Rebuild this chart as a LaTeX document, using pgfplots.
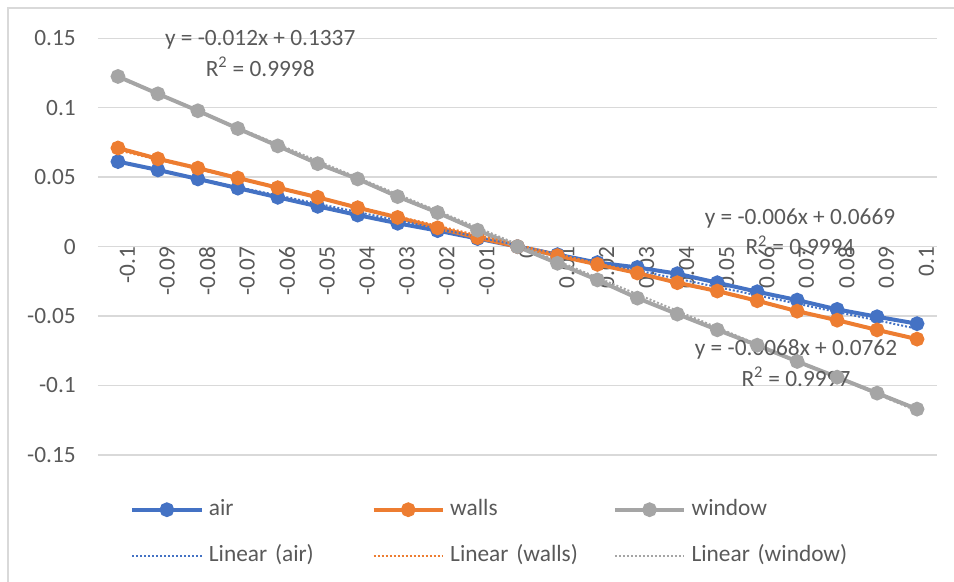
\documentclass[border=0pt]{standalone}
\usepackage{fontspec}
\setmainfont{Carlito}
\usepackage{pgfplots}
\pgfplotsset{compat=1.18}
\definecolor{airc}{HTML}{4472C4}
\definecolor{wallc}{HTML}{ED7D31}
\definecolor{winc}{HTML}{A5A5A5}
\definecolor{gridc}{HTML}{D9D9D9}
\definecolor{txtc}{HTML}{595959}
\begin{document}
\fontsize{17.5}{21}\selectfont
\begin{tikzpicture}
\begin{axis}[
  scale only axis,
  width=629.25pt, height=312.5pt,
  xmin=-0.5, xmax=20.5,
  ymin=-0.15, ymax=0.15,
  clip=false,
  axis x line=middle,
  axis y line=left,
  x axis line style={draw=gridc, line width=1pt, -},
  y axis line style={draw=none},
  hide obscured x ticks=false,
  hide obscured y ticks=false,
  major tick length=0pt,
  xtick={0,1,...,20},
  xticklabels={-0.1,-0.09,-0.08,-0.07,-0.06,-0.05,-0.04,-0.03,-0.02,-0.01,0,0.01,0.02,0.03,0.04,0.05,0.06,0.07,0.08,0.09,0.1},
  xticklabel style={rotate=90, anchor=east, text=txtc, inner sep=0pt, yshift=-7pt},
  ytick={-0.15,-0.1,-0.05,0,0.05,0.1,0.15},
  yticklabels={-0.15,-0.1,-0.05,0,0.05,0.1,0.15},
  yticklabel style={text=txtc, anchor=east, inner sep=0pt, xshift=-16.5pt},
  ymajorgrids,
  grid style={draw=gridc, line width=1pt},
  legend image code/.code={\draw[mark repeat=2,mark phase=2] plot coordinates {(0pt,0pt)(26pt,0pt)(52pt,0pt)};},
  legend columns=3,
  legend style={at={(0.0381,-0.090)}, anchor=north west, draw=none, fill=none,
    inner sep=0pt, row sep=9pt, text=txtc,
    nodes={text width=118pt, align=left, text height=0.75em, text depth=0.25em, inner sep=4pt}},
  legend cell align=left,
]
\addplot[color=airc, line width=3pt, mark=*, mark size=4pt, mark options={solid}] coordinates {
(0,0.0612)(1,0.0552)(2,0.0487)(3,0.0421)(4,0.0355)(5,0.0290)(6,0.0227)(7,0.0168)(8,0.0115)(9,0.0058)(10,0)
(11,-0.0058)(12,-0.0115)(13,-0.0150)(14,-0.0195)(15,-0.0260)(16,-0.0325)(17,-0.0385)(18,-0.0452)(19,-0.0505)(20,-0.0555)};
\addlegendentry{air}
\addplot[color=wallc, line width=3pt, mark=*, mark size=4pt, mark options={solid}] coordinates {
(0,0.0710)(1,0.0632)(2,0.0565)(3,0.0494)(4,0.0424)(5,0.0355)(6,0.0280)(7,0.0210)(8,0.0135)(9,0.0065)(10,0)
(11,-0.0065)(12,-0.0128)(13,-0.0190)(14,-0.0260)(15,-0.0320)(16,-0.0390)(17,-0.0465)(18,-0.0530)(19,-0.0600)(20,-0.0666)};
\addlegendentry{walls}
\addplot[color=winc, line width=3pt, mark=*, mark size=4pt, mark options={solid}] coordinates {
(0,0.1225)(1,0.1100)(2,0.0978)(3,0.0850)(4,0.0725)(5,0.0597)(6,0.0487)(7,0.0360)(8,0.0245)(9,0.0118)(10,0)
(11,-0.0120)(12,-0.0240)(13,-0.0371)(14,-0.0486)(15,-0.0599)(16,-0.0710)(17,-0.0827)(18,-0.0940)(19,-0.1055)(20,-0.1170)};
\addlegendentry{window}
\addplot[color=airc, line width=1.5pt, dash pattern=on 1.5pt off 1.5pt] coordinates {(0,0.0609)(20,-0.0591)};
\addlegendentry{\mbox{Linear (air)}}
\addplot[color=wallc, line width=1.5pt, dash pattern=on 1.5pt off 1.5pt] coordinates {(0,0.0694)(20,-0.0666)};
\addlegendentry{\mbox{Linear (walls)}}
\addplot[color=winc, line width=1.5pt, dash pattern=on 1.5pt off 1.5pt] coordinates {(0,0.1217)(20,-0.1183)};
\addlegendentry{\mbox{Linear (window)}}
\node[text=txtc, align=center, inner sep=0pt] at (axis cs:3.56,0.1392) {y = -0.012x + 0.1337\\[2pt]R\textsuperscript{2} = 0.9998};
\node[text=txtc, align=center, inner sep=0pt] at (axis cs:17.07,0.0108) {y = -0.006x + 0.0669\\[2pt]R\textsuperscript{2} = 0.9994};
\node[text=txtc, align=center, inner sep=0pt] at (axis cs:16.97,-0.0838) {y = -0.0068x + 0.0762\\[2pt]R\textsuperscript{2} = 0.9997};
\end{axis}
\path[use as bounding box] ([shift={(-73.5pt,-95.25pt)}]current axis.south west) rectangle ([shift={(12.75pt,28.7pt)}]current axis.north east);
\draw[gridc, line width=1.5pt] ([shift={(-67.5pt,-100pt)}]current axis.south west) -- ([shift={(-67.5pt,22.7pt)}]current axis.north west) -- ([shift={(20pt,22.7pt)}]current axis.north east);
\end{tikzpicture}
\end{document}
